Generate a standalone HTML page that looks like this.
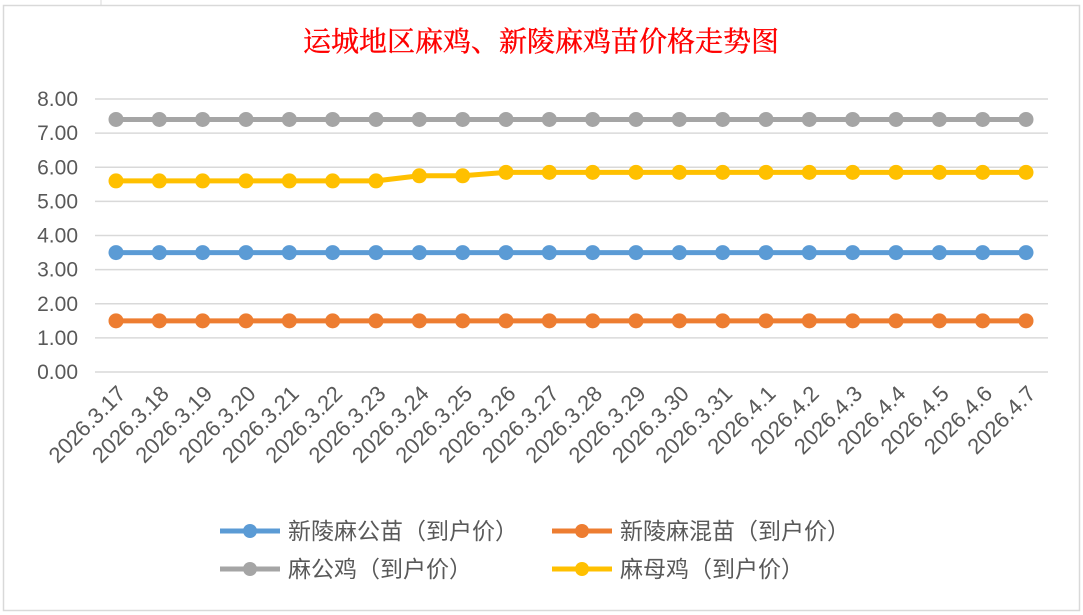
<!DOCTYPE html>
<html><head><meta charset="utf-8"><style>
html,body{margin:0;padding:0;background:#fff;}
svg{display:block;font-family:"Liberation Sans","Noto Sans CJK SC",sans-serif;}
</style></head><body>
<svg width="1083" height="615" xmlns="http://www.w3.org/2000/svg">
<rect x="0" y="0" width="1083" height="615" fill="#fff"/>
<line x1="101" y1="0" x2="101" y2="5" stroke="#d9d9d9"/>
<rect x="3.5" y="5.5" width="1076" height="605" fill="#fff" stroke="#d9d9d9" stroke-width="1.5"/>
<text x="541" y="51" text-anchor="middle" font-size="28" fill="#ff0000" stroke="#ff0000" stroke-width="0.4" font-family="'Noto Serif CJK SC','Liberation Serif',serif">运城地区麻鸡、新陵麻鸡苗价格走势图</text>
<g id="grid" stroke="#d9d9d9" stroke-width="1.5"></g>
<g id="ylab" font-size="21" fill="#595959" text-anchor="end"></g>
<g id="series"></g>
<g id="xlab" font-size="22" fill="#595959" text-anchor="end"></g>
<g font-size="23" fill="#595959">
<line x1="220" y1="531" x2="280" y2="531" stroke="#5b9bd5" stroke-width="5"/><circle cx="250" cy="531" r="7" fill="#5b9bd5"/>
<text x="288" y="539">新陵麻公苗（到户价）</text>
<line x1="552" y1="531" x2="612" y2="531" stroke="#ed7d31" stroke-width="5"/><circle cx="582" cy="531" r="7" fill="#ed7d31"/>
<text x="620" y="539">新陵麻混苗（到户价）</text>
<line x1="220" y1="569" x2="280" y2="569" stroke="#a5a5a5" stroke-width="5"/><circle cx="250" cy="569" r="7" fill="#a5a5a5"/>
<text x="288" y="577">麻公鸡（到户价）</text>
<line x1="552" y1="569" x2="612" y2="569" stroke="#ffc000" stroke-width="5"/><circle cx="582" cy="569" r="7" fill="#ffc000"/>
<text x="620" y="577">麻母鸡（到户价）</text>
</g>
</svg>
<script>
const ns="http://www.w3.org/2000/svg";
const y0=372,u=34.125,x0=116,dx=(1026-116)/21;
const g=document.getElementById('grid'),yl=document.getElementById('ylab'),s=document.getElementById('series'),xl=document.getElementById('xlab');
function el(t,a,p,txt){const e=document.createElementNS(ns,t);for(const k in a)e.setAttribute(k,a[k]);if(txt)e.textContent=txt;p.appendChild(e);return e;}
for(let i=0;i<=8;i++){const y=y0-i*u;el('line',{x1:95,x2:1048,y1:y,y2:y},g);el('text',{x:78,y:y+7},yl,i.toFixed(2));}
const labels=[];for(let d=17;d<=31;d++)labels.push('2026.3.'+d);for(let d=1;d<=7;d++)labels.push('2026.4.'+d);
const yel=[5.6,5.6,5.6,5.6,5.6,5.6,5.6,5.75,5.75];while(yel.length<22)yel.push(5.85);
const data=[[7.4,'#a5a5a5'],[yel,'#ffc000'],[3.5,'#5b9bd5'],[1.5,'#ed7d31']];
data.forEach(([v,c])=>{const vals=Array.isArray(v)?v:Array(22).fill(v);
 el('polyline',{points:vals.map((a,i)=>(x0+i*dx)+','+(y0-a*u)).join(' '),fill:'none',stroke:c,'stroke-width':5,'stroke-linejoin':'round'},s);
 vals.forEach((a,i)=>el('circle',{cx:x0+i*dx,cy:y0-a*u,r:7.5,fill:c},s));});
labels.forEach((l,i)=>{const x=x0+i*dx+11;el('text',{x:x,y:395,transform:`rotate(-45 ${x} 395)`},xl,l);});
</script>
</body></html>
